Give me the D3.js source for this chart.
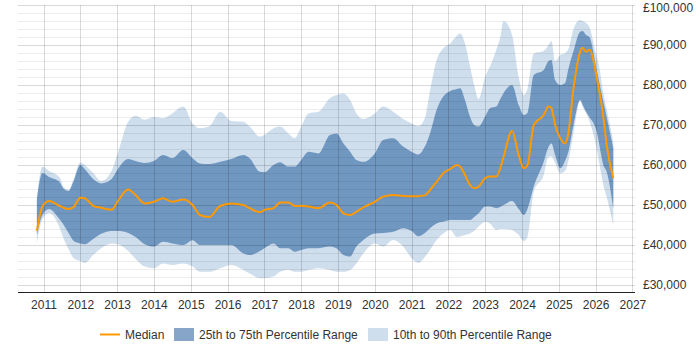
<!DOCTYPE html>
<html><head><meta charset="utf-8">
<script src="https://cdn.jsdelivr.net/npm/d3@7"></script>
<style>body{margin:0;background:#fff}svg{display:block}text{font-family:"Liberation Sans",Arial,sans-serif;font-size:12px;fill:#333}</style>
</head><body><svg id="c" width="700" height="350"></svg>
<script>
const dates = [2010.82,2010.97,2011.15,2011.43,2011.55,2011.68,2011.82,2012.0,2012.12,2012.35,2012.57,2012.85,2013.02,2013.3,2013.5,2013.75,2014.0,2014.25,2014.5,2014.8,2015.05,2015.25,2015.5,2015.8,2016.1,2016.43,2016.6,2016.88,2017.0,2017.25,2017.43,2017.65,2017.83,2018.0,2018.2,2018.47,2018.78,2018.96,2019.15,2019.33,2019.5,2019.69,2020.0,2020.23,2020.5,2020.77,2021.0,2021.18,2021.36,2021.5,2021.68,2021.86,2022.05,2022.23,2022.32,2022.45,2022.59,2022.7,2022.82,2023.0,2023.13,2023.3,2023.41,2023.5,2023.73,2023.91,2024.05,2024.15,2024.32,2024.59,2024.72,2024.8,2024.9,2025.04,2025.17,2025.26,2025.4,2025.58,2025.65,2025.74,2025.83,2026.03,2026.07,2026.21,2026.3,2026.48];
const p10 = [40.5,46.5,48,44.5,41.5,39,36.7,36,35.5,37.5,39.2,40.4,40.2,38.5,36.5,34.6,34.2,35.4,35,35.4,34.6,33.3,33.3,34.2,35,33.75,32.9,31.7,31.7,32.1,33.3,33.75,33.3,33.3,33.75,34.2,33.75,33.3,33.3,33.75,35.4,37.9,40.4,39.6,41.25,39.6,36.7,35.5,37,38.75,41.25,42.9,43.75,42,42.1,42.5,42.9,43.5,44.6,45.8,45.4,43.75,44,44,43.75,42.5,41,42,53.3,57.5,62,62.1,60.5,57.9,58.5,61,68,76,74.5,73,71,64,62,55,52,45];
const p25 = [42.5,47.5,49,46.5,45,43,41,40.4,40.2,41.5,42.8,43.5,43.5,43,42,40.2,39.6,40.8,40.4,40,41.2,40,40,40,40,37.9,37.5,38.5,39.2,40.4,39.2,39.2,38.3,38.75,39.2,39.2,39.6,39.2,37.5,37.1,39.6,41.25,42.9,43,43.3,44.2,43.5,42.2,43,44.2,45.4,45.8,46.25,46.25,46.25,46.25,46.25,47,47.9,49.6,49.6,49.2,49.5,50,51,49,47.5,49,54.6,60.8,64.5,65.4,62.5,59.2,61,63.3,70,76.25,75,73.3,72,68.3,66.5,60,58.3,49.2];
const median = [43.5,49.6,51,49.8,49.3,49,49.5,51.8,51.7,49.8,49.3,48.8,51,53.9,52.5,50.4,50.8,51.7,50.8,51.4,50,47.5,47,49.75,50.4,50,49.2,48.2,48.75,49.2,50.6,50.6,49.75,49.8,49.6,49.2,50.6,50,47.9,47.5,48.3,49.4,50.8,52.1,52.5,52.25,52.2,52.2,52.4,53.75,55.8,57.9,59,60,59.6,57.5,55,54.2,54.6,56.7,57.1,57.1,59.2,62,68.5,62.5,59.2,60,70,72.5,74.6,74.2,70,66.7,65.4,68,79.2,88.3,89.3,88.3,88.8,82,80,72,65,56.7];
const p75 = [51,58,57,55.8,54,53.5,56,60,59,56.5,55.4,56.5,59,61.5,61,60.5,61,62.5,61.7,63.75,61.7,60.4,60.25,60.8,61.5,62.5,61.7,58.3,58.2,60,60.7,59.6,59.6,61.25,63.3,62.9,67.5,67.9,65.4,63.3,61.25,60.8,62.9,66.25,66.7,64.6,63.3,62.6,64.6,67.9,73.75,77.1,78.5,79,79.2,76.25,72,70,69.6,72.1,74.2,74.6,76.5,78,80,75,72.5,73,82.5,83.75,86,86.25,81.25,80,80.5,84,88.5,93.3,93.5,92.5,92,83.75,82,75.8,72,64.2];
const p90 = [51.5,59.6,58.5,57,54.5,53.8,56.5,60.6,60,58,56,58.5,63,70.8,72.3,71.3,72,71.7,72.9,74.6,70.4,69.2,69.6,73.3,71,70.8,69.6,67.1,67.5,69.2,69.6,67.9,66.7,69.6,72.9,73.3,76.7,77.5,77.9,76.25,72.9,71.5,72.9,74.6,73.3,71.5,70.4,69.7,71.7,78.5,86.25,89.2,90.4,92.3,92.9,90.4,84.6,80,76.5,82.1,84.6,88.75,92,96,92.5,82,77.5,79,87.9,88.5,90,91,86,87.5,88,89,94,96.25,96,95.5,94.5,87,85.8,78,74,65.8];
const yearTicks = [2011,2012,2013,2014,2015,2016,2017,2018,2019,2020,2021,2022,2023,2024,2025,2026,2027];
const valueTicks = [30000,40000,50000,60000,70000,80000,90000,100000];
const legendLabels = ["Median","25th to 75th Percentile Range","10th to 90th Percentile Range"];

const colors = {median:"#ff9900", inner:"#7097c0", outer:"#cfdeed", innerLeg:"#87a5c8", outerLeg:"#cfdeed"};
const svg = d3.select("#c");
const L = 18, R = 635, T = 5, B = 292;
const x = d3.scaleLinear().domain([2010.307, 2027.07]).range([L, R]);
const y = d3.scaleLinear().domain([30000, 100000]).range([285, 5]);

const rows = dates.map((d,i)=>({d, p10:p10[i]*1000, p25:p25[i]*1000, m:median[i]*1000, p75:p75[i]*1000, p90:p90[i]*1000}));
const curve = d3.curveMonotoneX;

svg.append("path").datum(rows).attr("fill", colors.outer)
  .attr("d", d3.area().curve(curve).x(r=>x(r.d)).y0(r=>y(r.p10)).y1(r=>y(r.p90)));
svg.append("path").datum(rows).attr("fill", colors.inner)
  .attr("d", d3.area().curve(curve).x(r=>x(r.d)).y0(r=>y(r.p25)).y1(r=>y(r.p75)));

// grid
const minor = d3.range(30000, 100001, 2000).filter(v=>v%10000!==0);
const g = svg.append("g");
g.selectAll("line.mi").data(minor).join("line")
  .attr("x1",L).attr("x2",R).attr("y1",d=>Math.round(y(d))+0.5).attr("y2",d=>Math.round(y(d))+0.5)
  .attr("stroke","rgba(0,0,0,0.07)");
g.selectAll("line.ma").data(valueTicks).join("line")
  .attr("x1",L).attr("x2",R).attr("y1",d=>Math.round(y(d))+0.5).attr("y2",d=>Math.round(y(d))+0.5)
  .attr("stroke","rgba(0,0,0,0.15)");
g.selectAll("line.v").data(yearTicks).join("line")
  .attr("x1",d=>Math.round(x(d))+0.5).attr("x2",d=>Math.round(x(d))+0.5).attr("y1",T).attr("y2",B)
  .attr("stroke","rgba(0,0,0,0.15)");

// median
svg.append("path").datum(rows).attr("fill","none").attr("stroke",colors.median).attr("stroke-width",2)
  .attr("stroke-linejoin","round")
  .attr("d", d3.line().curve(curve).x(r=>x(r.d)).y(r=>y(r.m)));

// x axis
const xa = svg.append("g").attr("transform",`translate(0,${B})`)
  .call(d3.axisBottom(x).tickValues(yearTicks).tickFormat(d3.format("d")).tickSize(0).tickPadding(8));
xa.select(".domain").attr("d",`M${L},0.5H${R}`).attr("stroke","#222");
xa.selectAll("text").style("font-size","12px").attr("fill","#333");

// y axis labels
const ya = svg.append("g").attr("transform",`translate(${R},0)`)
  .call(d3.axisRight(y).tickValues(valueTicks).tickFormat(v=>"£"+d3.format(",")(v)).tickSize(0).tickPadding(8));
ya.select(".domain").remove();
ya.selectAll("text").style("font-size","12px").attr("fill","#333")
  .attr("dy", d => d === 100000 ? "0.55em" : "0.32em");

// legend
const lg = svg.append("g");
lg.append("line").attr("x1",100).attr("x2",120).attr("y1",334.5).attr("y2",334.5).attr("stroke",colors.median).attr("stroke-width",2);
lg.append("text").attr("x",125).attr("y",338.5).text(legendLabels[0]);
lg.append("rect").attr("x",174).attr("y",328).attr("width",20).attr("height",13).attr("fill",colors.innerLeg);
lg.append("text").attr("x",199).attr("y",338.5).text(legendLabels[1]);
lg.append("rect").attr("x",368).attr("y",328).attr("width",20).attr("height",13).attr("fill",colors.outerLeg);
lg.append("text").attr("x",393).attr("y",338.5).text(legendLabels[2]);
</script></body></html>
